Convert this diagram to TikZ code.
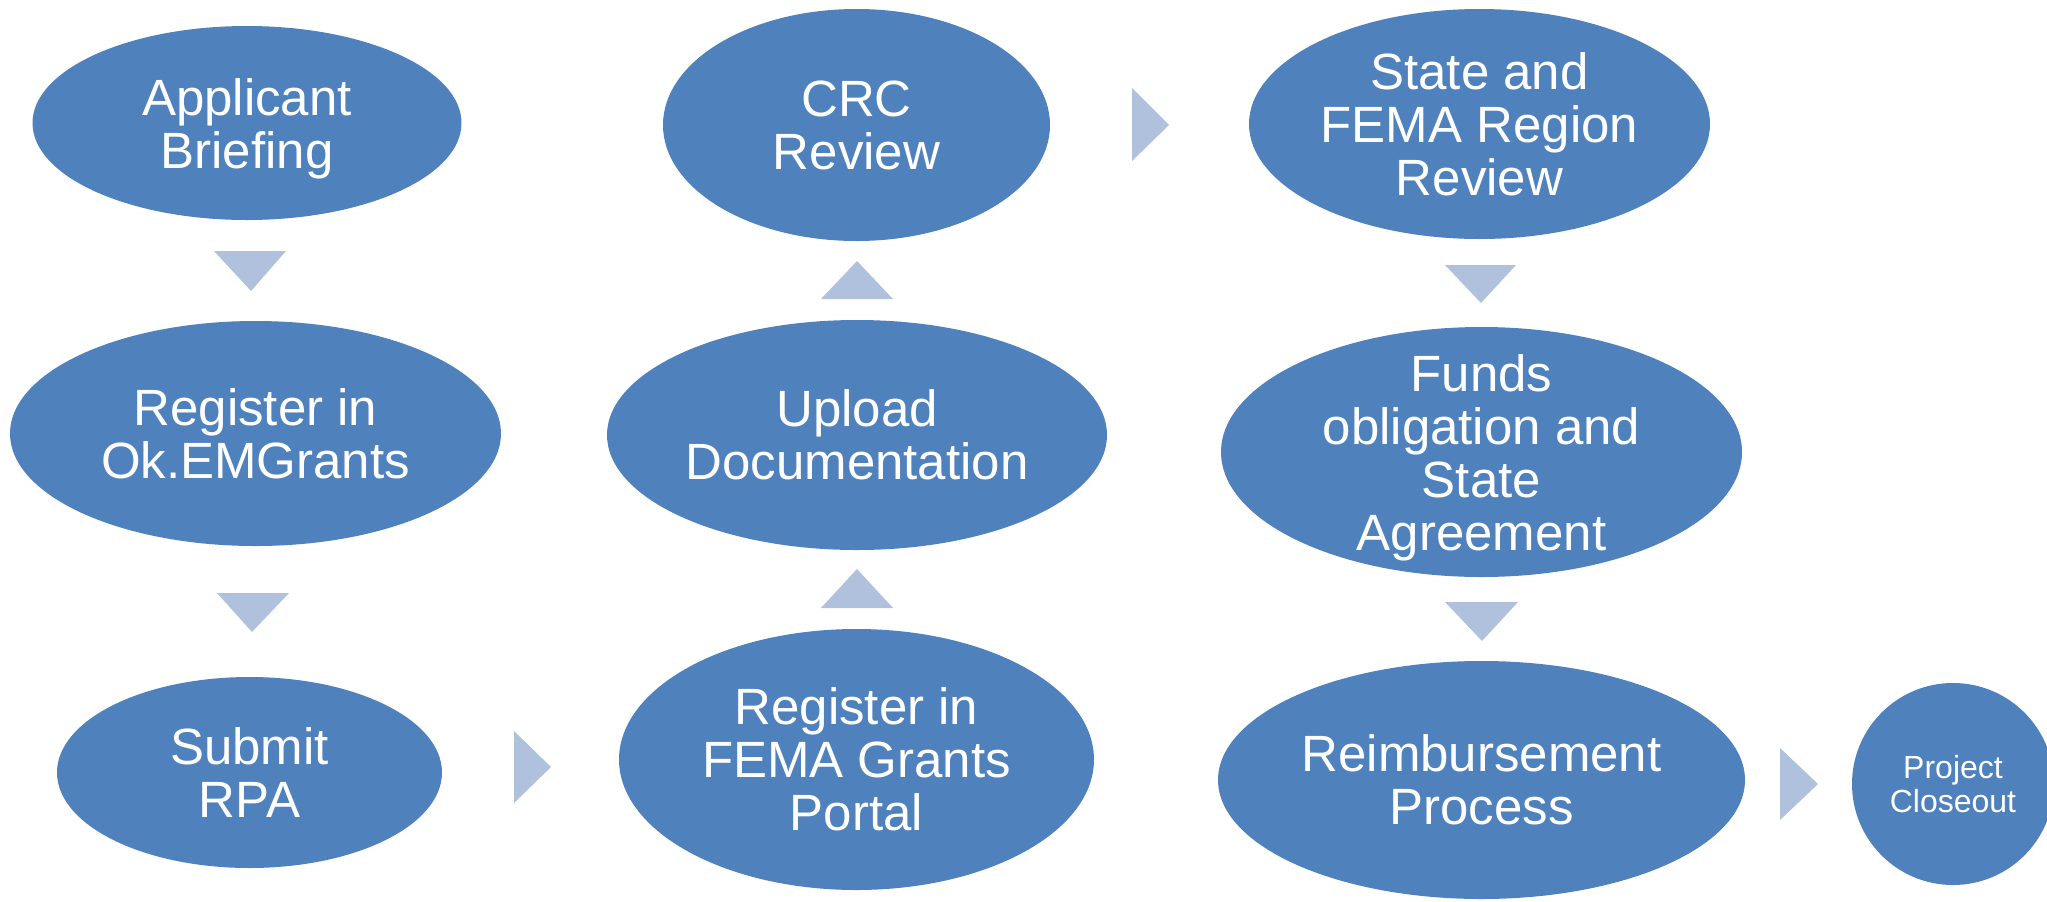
\documentclass[tikz,border=0pt]{standalone}
\usepackage{fontspec}
\setmainfont{Liberation Sans}
\usetikzlibrary{shapes.geometric}
\definecolor{stepblue}{HTML}{4F81BD}
\definecolor{arrowblue}{HTML}{B0C1DD}
\tikzset{
  stage/.style={ellipse, fill=stepblue, draw=none, inner sep=0pt},
  stagetext/.style={text=white, align=center, inner sep=0pt,
    font=\fontsize{25.5pt}{26.5pt}\selectfont},
  smalltext/.style={text=white, align=center, inner sep=0pt,
    font=\fontsize{16pt}{17pt}\selectfont},
  flow/.style={fill=arrowblue, draw=none}
}
\begin{document}
\begin{tikzpicture}[x=0.5pt, y=-0.5pt]
\useasboundingbox (0,0) rectangle (2047,901);
% stages
\node[stage, minimum width=214.5pt, minimum height=97pt]  (s1)  at (247,123)    {};
\node[stage, minimum width=245.5pt, minimum height=112.5pt] (s2) at (255.5,433.5) {};
\node[stage, minimum width=192.5pt, minimum height=95.5pt] (s3)  at (249.5,772.5) {};
\node[stage, minimum width=237.5pt, minimum height=130.5pt] (s4) at (856.5,759.5) {};
\node[stage, minimum width=250pt, minimum height=115pt]    (s5)  at (857,435)    {};
\node[stage, minimum width=193.5pt, minimum height=116pt]  (s6)  at (856.5,125)  {};
\node[stage, minimum width=230.5pt, minimum height=115pt]  (s7)  at (1479.5,124) {};
\node[stage, minimum width=260.5pt, minimum height=125pt]  (s8)  at (1481.5,452) {};
\node[stage, minimum width=263.5pt, minimum height=119pt]  (s9)  at (1481.5,780) {};
\node[stage, minimum width=101pt, minimum height=101pt]    (s10) at (1953,784)   {};
% texts
\node[stagetext, yshift=-2.7pt] (t1) at (s1.center) {Applicant\\Briefing};
\node[stagetext] (t2) at (s2.center) {Register in\\Ok.EMGrants};
\node[stagetext] (t3) at (s3.center) {Submit\\RPA};
\node[stagetext] (t4) at (s4.center) {Register in\\FEMA Grants\\Portal};
\node[stagetext] (t5) at (s5.center) {Upload\\Documentation};
\node[stagetext] (t6) at (s6.center) {CRC\\Review};
\node[stagetext] (t7) at (s7.center) {State and\\FEMA Region\\Review};
\node[stagetext, yshift=-2.7pt] (t8) at (s8.center) {Funds\\obligation and\\State\\Agreement};
\node[stagetext] (t9) at (s9.center) {Reimbursement\\Process};
\node[smalltext] (t10) at (s10.center) {Project\\Closeout};
% flow triangles
\fill[flow] (214,251) -- (286,251) -- (251,291) -- cycle;
\fill[flow] (217,593) -- (289,593) -- (252,632) -- cycle;
\fill[flow] (514,731) -- (514,803) -- (551,767) -- cycle;
\fill[flow] (821,608) -- (893,608) -- (857,569) -- cycle;
\fill[flow] (821,299) -- (893,299) -- (857,261) -- cycle;
\fill[flow] (1132,88) -- (1132,161) -- (1169,125) -- cycle;
\fill[flow] (1445,265) -- (1516,265) -- (1481,303) -- cycle;
\fill[flow] (1445,602) -- (1518,602) -- (1482,641) -- cycle;
\fill[flow] (1780,748) -- (1780,820) -- (1818,784) -- cycle;
\end{tikzpicture}
\end{document}
